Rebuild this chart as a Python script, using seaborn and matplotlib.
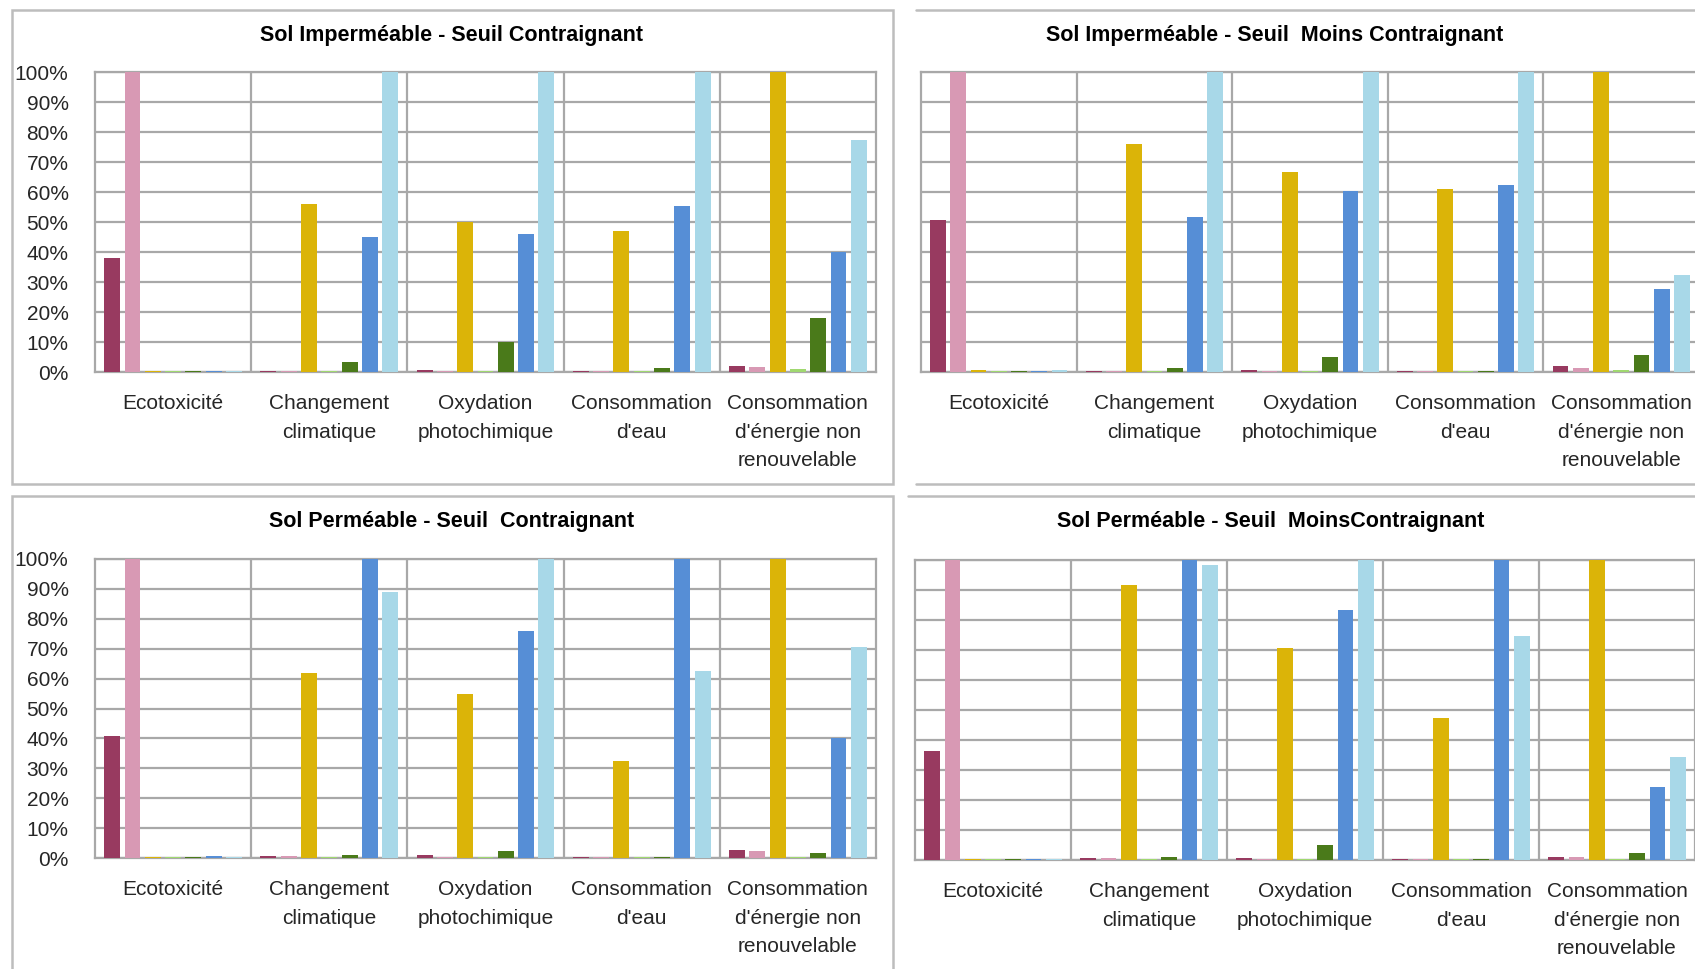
import matplotlib
matplotlib.use("Agg")
import matplotlib.pyplot as plt
import numpy as np
import pandas as pd
import seaborn as sns
from matplotlib.lines import Line2D
from matplotlib.patches import Rectangle

# Impact categories (x axis) and the seven compared scenarios (bar colours)
categories = [
    "Ecotoxicité",
    "Changement\nclimatique",
    "Oxydation\nphotochimique",
    "Consommation\nd'eau",
    "Consommation\nd'énergie non\nrenouvelable",
]
series = ["S1", "S2", "S3", "S4", "S5", "S6", "S7"]
palette = ["#983A60", "#D899B4", "#DBB408", "#A0D870", "#4A7A1A", "#568ED6", "#A8D8E8"]

# Relative impacts (%) : one row per scenario, one column per category
imp_contraignant = [
    [38.0, 0.5, 0.7, 0.5, 1.9],
    [100.0, 0.5, 0.5, 0.5, 1.6],
    [0.5, 56.0, 50.0, 47.0, 100.0],
    [0.5, 0.4, 0.4, 0.4, 1.1],
    [0.5, 3.3, 10.0, 1.2, 18.0],
    [0.5, 45.0, 46.0, 55.5, 40.0],
    [0.5, 100.0, 100.0, 100.0, 77.5],
]
imp_moins = [
    [50.7, 0.5, 0.8, 0.5, 1.9],
    [100.0, 0.5, 0.5, 0.5, 1.2],
    [0.7, 76.0, 66.7, 61.1, 100.0],
    [0.5, 0.4, 0.4, 0.4, 0.7],
    [0.5, 1.2, 5.0, 0.5, 5.8],
    [0.5, 51.8, 60.5, 62.2, 27.8],
    [0.6, 100.0, 100.0, 100.0, 32.3],
]
perm_contraignant = [
    [40.7, 0.6, 0.9, 0.5, 2.6],
    [100.0, 0.6, 0.5, 0.5, 2.2],
    [0.5, 62.0, 55.0, 32.3, 100.0],
    [0.4, 0.4, 0.4, 0.4, 0.4],
    [0.5, 0.9, 2.2, 0.5, 1.8],
    [0.6, 100.0, 76.0, 100.0, 40.2],
    [0.5, 88.8, 100.0, 62.5, 70.7],
]
perm_moins = [
    [36.5, 0.6, 0.6, 0.4, 1.1],
    [100.0, 0.6, 0.4, 0.4, 1.1],
    [0.5, 91.8, 70.6, 47.2, 100.0],
    [0.4, 0.4, 0.4, 0.4, 0.4],
    [0.4, 1.1, 5.0, 0.4, 2.2],
    [0.5, 100.0, 83.5, 100.0, 24.5],
    [0.5, 98.2, 100.0, 74.8, 34.2],
]

titles = [
    "Sol Imperméable - Seuil Contraignant",
    "Sol Imperméable - Seuil  Moins Contraignant",
    "Sol Perméable - Seuil  Contraignant",
    "Sol Perméable - Seuil  MoinsContraignant",
]
yticks = [0, 10, 20, 30, 40, 50, 60, 70, 80, 90, 100]
ytick_labels = [f"{v}%" for v in yticks]

sns.set_theme(style="white")
plt.rcParams["font.family"] = ["Liberation Sans Narrow", "Liberation Sans", "DejaVu Sans"]

W, H = 1695, 969
fig = plt.figure(figsize=(W / 100, H / 100), dpi=100)
fig.patch.set_facecolor("white")

GRID = "#A8A8A8"
FRAME = "#BDBDBD"
FS = 15
TITLE_FS = 15.5


def fx(px):
    return px / W


def fy(py):
    return 1 - py / H


def long_table(matrix):
    rows = []
    for s, vals in zip(series, matrix):
        for c, v in zip(categories, vals):
            rows.append({"categorie": c, "serie": s, "valeur": v})
    return pd.DataFrame(rows)


# Panel layout in pixels: (left, right, top, bottom) of the plot area,
# title centre, whether the y tick labels are shown
panels = [
    (imp_contraignant, (95, 876, 72, 372), (452, 36), True),
    (imp_moins, (921, 1699, 72, 372), (1275, 35), False),
    (perm_contraignant, (95, 876, 559, 858), (452, 522), True),
    (perm_moins, (915, 1695, 560, 860), (1271, 522), False),
]

for (matrix, (l, r, t, b), (tx, ty), show_y), title in zip(panels, titles):
    ax = fig.add_axes([fx(l), fy(b), fx(r) - fx(l), fy(t) - fy(b)])
    ax.set_axisbelow(True)
    df = long_table(matrix)
    sns.barplot(
        data=df, x="categorie", y="valeur", hue="serie",
        order=categories, hue_order=series, palette=palette,
        saturation=1, width=0.91, gap=0.22, dodge=True, legend=False,
        linewidth=0, ax=ax, errorbar=None,
    )
    for p in ax.patches:
        p.set_zorder(3)
    ax.set_ylim(0, 100)
    ax.set_xlim(-0.5, len(categories) - 0.5)
    ax.set_yticks(yticks)
    ax.yaxis.grid(True, color=GRID, linewidth=1.6)
    ax.xaxis.grid(False)
    for i in range(len(categories) - 1):
        ax.axvline(i + 0.5, color=GRID, linewidth=1.6, zorder=0.5)
    for sp in ax.spines.values():
        sp.set_color(GRID)
        sp.set_linewidth(1.6)
    ax.spines["bottom"].set_zorder(2)
    ax.set_xlabel("")
    ax.set_ylabel("")
    ax.tick_params(axis="both", length=0)
    ax.tick_params(axis="x", pad=16, labelsize=FS)
    for lab in ax.get_xticklabels():
        lab.set_linespacing(1.62)
        lab.set_verticalalignment("top")
    if show_y:
        ax.set_yticklabels(ytick_labels, fontsize=FS)
        ax.tick_params(axis="y", pad=19)
    else:
        ax.set_yticklabels([])
    fig.text(fx(tx), fy(ty), title, ha="center", va="center",
             fontsize=TITLE_FS, fontweight="bold", color="black")

# Chart frames around each panel
frame_kw = dict(transform=fig.transFigure, fill=False, edgecolor=FRAME, linewidth=1.8)
fig.patches.append(Rectangle((fx(12), fy(484)), fx(893) - fx(12), fy(10) - fy(484), **frame_kw))
fig.patches.append(Rectangle((fx(12), fy(1000)), fx(893) - fx(12), fy(496) - fy(1000), **frame_kw))
for y0, x0 in [(10, 916), (484, 916), (496, 908)]:
    fig.lines.append(Line2D([fx(x0), 1.02], [fy(y0), fy(y0)], transform=fig.transFigure,
                            color=FRAME, linewidth=1.8))

fig.savefig("out.png", dpi=100, facecolor="white")
